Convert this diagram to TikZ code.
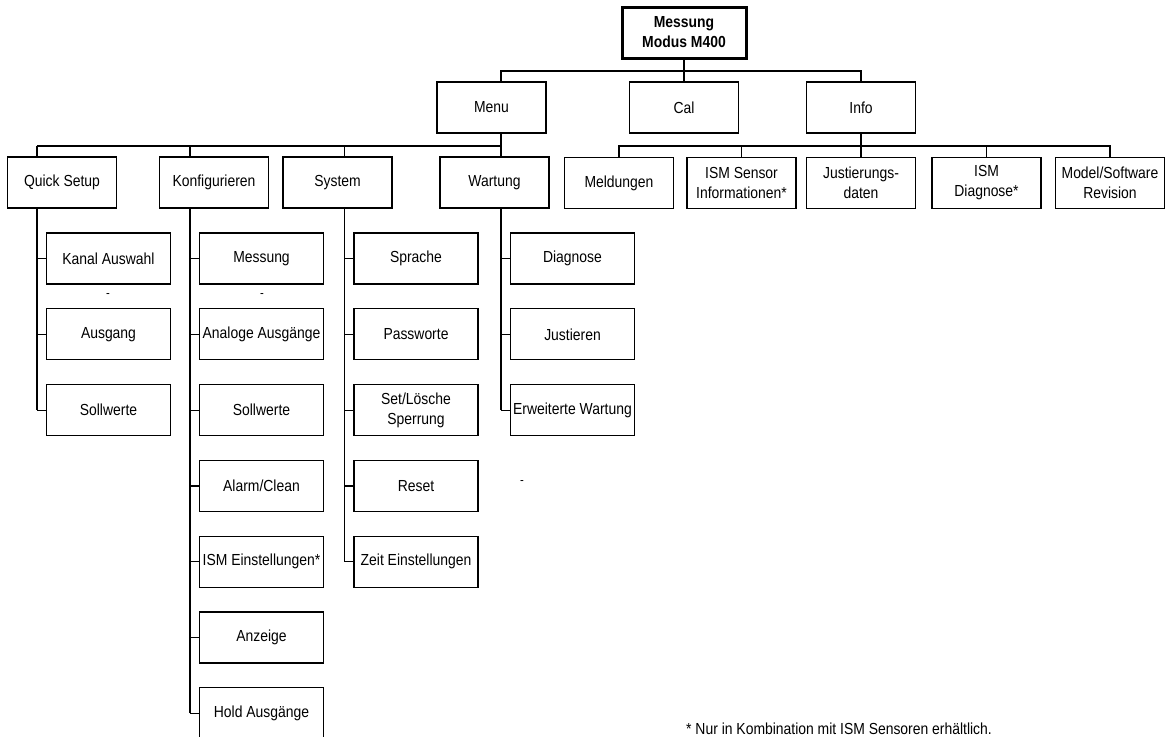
\documentclass[tikz,border=0pt]{standalone}
\usepackage{fontspec}
\setmainfont{Liberation Sans}[FakeStretch=0.87]
\usetikzlibrary{positioning}

\tikzset{
    menubox/.style={draw, line width=1.2pt, minimum width=109pt, minimum height=51pt,
        inner sep=1pt, align=center, font=\fontsize{16}{20}\selectfont},
    subbox/.style={menubox, minimum width=124pt},
    link/.style={line width=1.2pt},
}

\begin{document}
\begin{tikzpicture}[x=1pt, y=-1pt]
    \useasboundingbox (0,0) rectangle (1166,736);

    % Top node and first level
    \node[menubox, line width=3pt, minimum width=124pt,
        font=\bfseries\fontsize{16}{20}\selectfont] (root) at (684,32.5) {Messung\\Modus M400};
    \node[menubox] (menu) at (491.5,107.5) {Menu};
    \node[menubox] (cal) at (684,107.5) {Cal};
    \node[menubox] (info) at (861,107.5) {Info};

    % Info branch
    \foreach \name/\x/\label in {meld/619/Meldungen, isms/741.5/{ISM Sensor\\Informationen*},
        just/861/{Justierungs-\\daten}, ismd/986.5/{ISM\\Diagnose*}, model/1110/{Model/Software\\Revision}} {
        \node[menubox] (\name) at (\x,183) {\label};
    }

    % Menu branch
    \foreach \name/\x/\label in {qs/62/Quick Setup, konf/214/Konfigurieren,
        sys/337.5/System, wart/494.5/Wartung} {
        \node[menubox] (\name) at (\x,182.5) {\label};
    }

    % Entries below the menu branch
    \foreach \label [count=\i] in {Kanal Auswahl, Ausgang, Sollwerte} {
        \node[subbox] (qs\i) at (108.5,{258.5+75.8*(\i-1)}) {\label};
    }
    \foreach \label [count=\i] in {Messung, Analoge Ausgänge, Sollwerte, Alarm/Clean,
        ISM Einstellungen*, Anzeige, Hold Ausgänge} {
        \node[subbox] (konf\i) at (261.5,{258.5+75.8*(\i-1)}) {\label};
    }
    \foreach \label [count=\i] in {Sprache, Passworte, {Set/Lösche\\Sperrung}, Reset,
        Zeit Einstellungen} {
        \node[subbox] (sys\i) at (416,{258.5+75.8*(\i-1)}) {\label};
    }
    \foreach \label [count=\i] in {Diagnose, Justieren, Erweiterte Wartung} {
        \node[subbox] (wart\i) at (572.5,{258.5+75.8*(\i-1)}) {\label};
    }

    % Buses
    \coordinate (topbus) at (684,71);
    \coordinate (menubus) at (491.5,146);
    \coordinate (infobus) at (861,146);

    % Trunks and stubs
    \foreach \col/\n in {qs/3, konf/7, sys/5, wart/3} {
        \coordinate (\col-trunk) at ([xshift=-9pt]\col1.west);
        \draw[link] (\col-trunk |- menubus) -- (\col-trunk |- \col.north);
        \draw[link] (\col.south -| \col-trunk) -- (\col-trunk |- \col\n.west);
        \foreach \i in {1,...,\n} {
            \draw[link] (\col-trunk |- \col\i.west) -- (\col\i.west);
        }
    }

    % Connectors of the top levels
    \draw[link] (root.south) -- (cal.north);
    \draw[link] (menu.north -| wart-trunk) |- (topbus) -| (info.north);
    \draw[link] (menu.south -| wart-trunk) -- (wart-trunk |- menubus);
    \draw[link] (qs-trunk |- menubus) -- (wart-trunk |- menubus);
    \draw[link] (info.south) -- (just.north);
    \draw[link] (meld.north) |- (infobus) -| (model.north);
    \draw[link] (isms.north) -- (isms.north |- infobus);
    \draw[link] (ismd.north) -- (ismd.north |- infobus);

    % Small marks and footnote
    \foreach \name/\x/\y in {dashA/108/296, dashB/262/296, dashC/522/483} {
        \node[inner sep=0pt, font=\fontsize{13}{13}\selectfont] (\name) at (\x,\y) {-};
    }
    \node[font=\fontsize{16}{20}\selectfont] (note) at (839,729)
        {* Nur in Kombination mit ISM Sensoren erhältlich.};

\end{tikzpicture}
\end{document}
